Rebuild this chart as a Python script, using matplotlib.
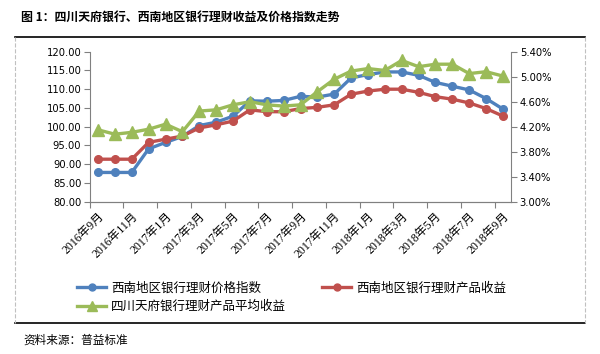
import numpy as np
import matplotlib
matplotlib.use('Agg')
import matplotlib.pyplot as plt
from matplotlib.lines import Line2D

plt.rcParams['font.family'] = ['DejaVu Sans', 'Noto Sans CJK SC']

# monthly, 2016-09 .. 2018-09
months = [f'{y}年{m}月' for y, m in
          [(2016, 9), (2016, 10), (2016, 11), (2016, 12)] +
          [(2017, m) for m in range(1, 13)] +
          [(2018, m) for m in range(1, 10)]]
price_idx = [87.8, 87.8, 87.8, 94.1, 95.8, 97.4, 100.3, 101.2, 102.8, 106.9, 106.8, 107.0,
             108.1, 107.9, 108.7, 113.0, 113.9, 114.6, 114.6, 113.7, 111.8, 110.8, 109.8,
             107.5, 104.7]
sw_yield = [3.68, 3.68, 3.68, 3.95, 4.00, 4.05, 4.18, 4.23, 4.29, 4.47, 4.44, 4.44,
            4.49, 4.51, 4.55, 4.72, 4.77, 4.80, 4.80, 4.75, 4.68, 4.64, 4.58, 4.49, 4.37]
sc_yield = [4.15, 4.08, 4.11, 4.16, 4.24, 4.12, 4.45, 4.47, 4.55, 4.60, 4.55, 4.53,
            4.55, 4.76, 4.96, 5.09, 5.13, 5.10, 5.26, 5.16, 5.20, 5.20, 5.05, 5.08, 5.01]
names = ['西南地区银行理财价格指数', '西南地区银行理财产品收益', '四川天府银行理财产品平均收益']

W, H = 600, 354
fig = plt.figure(figsize=(6, 3.54), dpi=100)
ax = fig.add_axes([89.6/W, 1-201.7/H, (511.4-89.6)/W, 150/H])
ax2 = ax.twinx()

x = np.arange(len(months))
blue, red, green = '#4F81BD', '#C0504D', '#9BBB59'
ax.plot(x, price_idx, color=blue, lw=2.4, marker='o', ms=5.5, zorder=3)
ax2.plot(x, sw_yield, color=red, lw=2.4, marker='o', ms=5.5, zorder=3)
ax2.plot(x, sc_yield, color=green, lw=2.4, marker='^', ms=8, zorder=4)

ax.set_xlim(-0.5, len(months)-0.5)
ax.set_ylim(80, 120)
ax2.set_ylim(3.0, 5.4)
ax.set_yticks(np.arange(80, 121, 5))
ax.set_yticklabels([f'{v:.2f}' for v in np.arange(80, 121, 5)])
ax2.set_yticks(np.arange(3.0, 5.41, 0.4))
ax2.set_yticklabels([f'{v:.2f}%' for v in np.arange(3.0, 5.41, 0.4)])

ax.set_xticks(np.arange(-0.5, len(months)-1, 2))
ax.set_xticklabels([])
ax.set_xticks(x[::2], minor=True)
ax.set_xticklabels(months[::2], minor=True, rotation=45, ha='right', va='top',
                   rotation_mode='anchor', fontsize=8.5,
                   family=['Liberation Serif', 'Noto Sans CJK SC'])
ax.tick_params(axis='x', which='minor', length=0, pad=6)
ax.tick_params(axis='x', which='major', length=4, color='#808080')

for a in (ax, ax2):
    for s in a.spines.values():
        s.set_color('#808080')
    a.spines['top'].set_visible(False)
    a.tick_params(axis='y', labelsize=7.2, length=4, color='#808080', pad=2)
ax2.spines['left'].set_visible(False)
ax.spines['right'].set_visible(False)

handles = [Line2D([], [], color=blue, lw=2.4, marker='o', ms=5),
           Line2D([], [], color=green, lw=2.4, marker='^', ms=7),
           Line2D([], [], color=red, lw=2.4, marker='o', ms=5)]
fig.legend(handles, [names[0], names[2], names[1]], ncol=2, loc='upper left',
           bbox_to_anchor=(66/W, 1-270/H), frameon=False,
           handlelength=2.3, handletextpad=0.4, columnspacing=2.9, labelspacing=0.45,
           prop={'family': 'Noto Sans CJK SC', 'size': 9})

# frame
fig.add_artist(Line2D([15/W, 585/W], [1-37/H, 1-37/H], color='black', lw=1.2))
fig.add_artist(Line2D([15/W, 585/W], [1-323/H, 1-323/H], color='black', lw=1.2))
for xx in (15, 585):
    fig.add_artist(Line2D([xx/W, xx/W], [1-37/H, 1-323/H], color='#c0c0c0', lw=0.8, ls='--'))

fig.text(21/W, 1-17/H, '图 1：四川天府银行、西南地区银行理财收益及价格指数走势', fontsize=8.6,
         fontweight='bold', va='center', family=['Noto Sans CJK SC'])
fig.text(23/W, 1-340/H, '资料来源：普益标准', fontsize=8.4, va='center', family=['Noto Sans CJK SC'])

fig.savefig('out.png', dpi=100)
